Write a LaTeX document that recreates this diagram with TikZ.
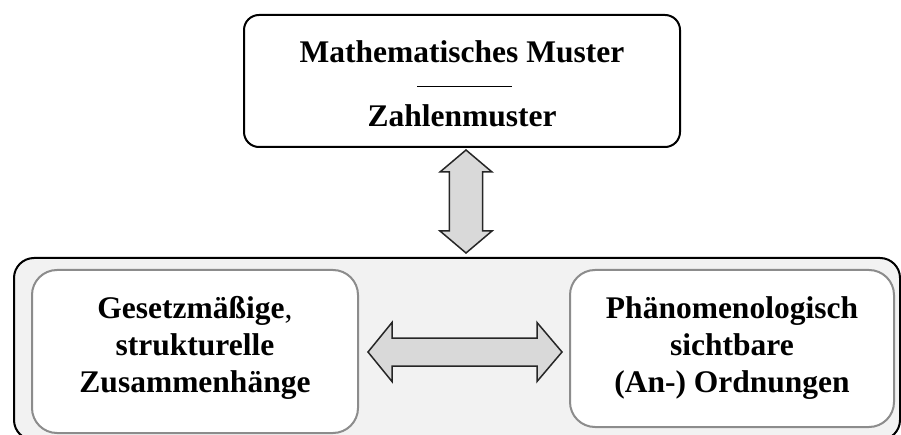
\documentclass[tikz,border=0pt]{standalone}
\usepackage{fontspec}
\setmainfont{Liberation Serif}
\usetikzlibrary{calc}
\definecolor{outerfill}{HTML}{F2F2F2}
\definecolor{innerline}{HTML}{8C8C8C}
\definecolor{arrowfill}{HTML}{D9D9D9}
\definecolor{arrowline}{HTML}{262626}
\tikzset{
  topbox/.style={draw=black, line width=2pt, rounded corners=15pt, fill=white, inner sep=0pt},
  outerbox/.style={draw=black, line width=2pt, rounded corners=20pt, fill=outerfill, inner sep=0pt},
  innerbox/.style={draw=innerline, line width=2pt, rounded corners=25pt, fill=white, inner sep=0pt},
  lbl/.style={font=\bfseries\fontsize{31.5}{36}\selectfont, anchor=base, inner sep=0pt},
  fatarrow/.style={draw=arrowline, line width=1.5pt, fill=arrowfill, line join=miter}
}
\begin{document}
\begin{tikzpicture}[x=1pt,y=-1pt]
\useasboundingbox (0,0) rectangle (901,435);
% top box
\node[topbox, minimum width=436pt, minimum height=132pt] (top) at (462,81) {};
\node[lbl] (t1) at (462,63) {Mathematisches Muster};
\coordinate (r1) at (417,87);
\coordinate (r2) at (512,87);
\draw[line width=1pt] (r1) -- (r2);
\node[lbl] (t2) at (462,127) {Zahlenmuster};
% outer box
\node[outerbox, minimum width=886pt, minimum height=182pt] (outer) at (457,349) {};
% inner boxes
\node[innerbox, minimum width=326pt, minimum height=163pt] (left) at (195,351.5) {};
\node[innerbox, minimum width=324pt, minimum height=157pt] (right) at (732,348.5) {};
\node[lbl] (l1) at (195,318) {Gesetzmäßige{\mdseries,}};
\node[lbl] (l2) at (195,355) {strukturelle};
\node[lbl] (l3) at (195,392) {Zusammenhänge};
\node[lbl] (r1t) at (732,318) {Phänomenologisch};
\node[lbl] (r2t) at (732,355) {sichtbare};
\node[lbl] (r3t) at (732,392) {(An-) Ordnungen};
% vertical double arrow
\coordinate (va) at (466,150);
\coordinate (vb) at (466,253);
\draw[fatarrow] (va) -- ++(26,22) -- ++(-9.3,0) -- ($(vb)+(16.7,-22)$) -- ++(9.3,0) -- (vb)
  -- ++(-26,-22) -- ++(9.3,0) -- ($(va)+(-16.7,22)$) -- ++(-9.3,0) -- cycle;
% horizontal double arrow
\coordinate (ha) at (368,352);
\coordinate (hb) at (562,352);
\draw[fatarrow] (ha) -- ++(24,-29.5) -- ++(0,15.5) -- ($(hb)+(-25,-14)$) -- ++(0,-15.5) -- (hb)
  -- ++(-25,29.5) -- ++(0,-15.5) -- ($(ha)+(24,14)$) -- ++(0,15.5) -- cycle;
\end{tikzpicture}
\end{document}
